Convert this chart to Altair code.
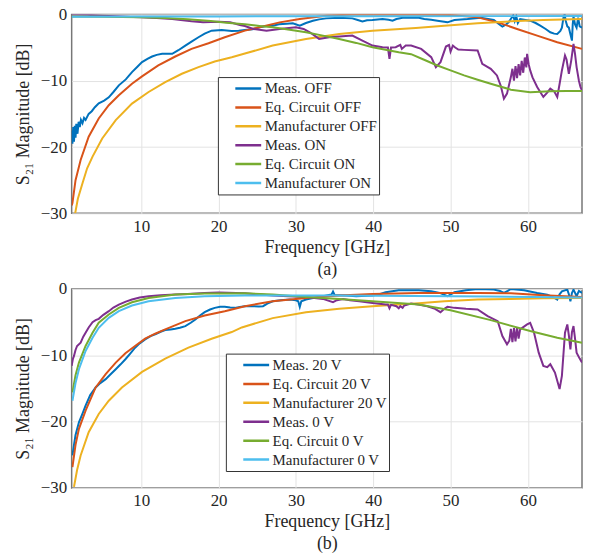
import altair as alt
import pandas as pd

COLORS = ["#0072BD", "#D95319", "#EDB120", "#7E2F8E", "#77AC30", "#4DBEEE"]
X_TICKS = [10, 20, 30, 40, 50, 60]
Y_TICKS = [-30, -20, -10, 0]

NAMES_A = ["Meas. OFF", "Eq. Circuit OFF", "Manufacturer OFF",
           "Meas. ON", "Eq. Circuit ON", "Manufacturer ON"]
NAMES_B = ["Meas. 20 V", "Eq. Circuit 20 V", "Manufacturer 20 V",
           "Meas. 0 V", "Eq. Circuit 0 V", "Manufacturer 0 V"]

# ---------------- panel (a) ----------------
A_MEAS_OFF_F = [1.0, 1.1, 1.2, 1.3, 1.4, 1.5, 1.6, 1.75, 1.9, 2.05, 2.2, 2.4, 2.6, 2.8, 3.2, 3.6, 4.0, 4.5,
                5.2, 5.8, 6.4, 7.1, 8.0, 8.8, 9.5, 10.1, 10.8, 11.4, 12.0, 12.7, 13.4, 14.0, 14.8, 15.7,
                16.5, 17.4, 18.2, 19.1, 20.4, 21.7, 22.6, 23.4, 24.4, 25.3, 26.2, 27.0, 27.8, 28.8, 29.6,
                30.5, 31.3, 32.2, 33.0, 33.9, 35.6, 37.3, 38.0, 38.6, 39.2, 39.9, 41.2, 42.0, 42.5, 43.0,
                43.8, 45.9, 46.6, 47.5, 48.3, 49.6, 50.5, 52.2, 53.9, 55.6, 56.2, 56.7, 57.2, 57.5, 57.9,
                58.1, 58.3, 58.5, 58.7, 59.0, 59.5, 60.3, 61.0, 61.6, 62.3, 62.9, 63.4, 63.8, 64.2, 64.4,
                64.6, 64.75, 64.9, 65.1, 65.3, 65.5, 65.7, 65.8, 65.9, 66.1, 66.3, 66.5, 66.7, 67.0]
A_MEAS_OFF_V = [-17.5, -19.5, -17.0, -19.2, -16.8, -18.6, -16.5, -18.0, -16.2, -17.0, -15.9, -16.4, -15.6,
                -15.9, -15.0, -14.6, -14.0, -13.4, -13.0, -12.5, -11.7, -10.7, -9.8, -8.7, -7.9, -7.2,
                -6.7, -6.35, -6.1, -5.95, -5.95, -5.95, -5.4, -4.7, -4.1, -3.45, -2.9, -2.45, -2.35, -2.5,
                -2.45, -2.35, -2.25, -1.95, -1.75, -1.7, -1.5, -1.4, -1.35, -1.7, -1.3, -0.95, -0.75, -0.6,
                -0.5, -0.6, -0.85, -1.05, -0.9, -0.85, -0.7, -0.8, -0.95, -0.7, -0.5, -0.5, -0.7, -0.8,
                -0.95, -1.2, -0.85, -0.7, -0.5, -0.85, -1.4, -1.85, -1.5, -1.2, -0.5, -0.15, -1.0, -0.3,
                -1.3, -0.7, -0.8, -0.95, -1.3, -1.7, -2.2, -2.7, -2.9, -2.95, -2.5, -2.0, -0.5, 0.0, -1.0,
                -1.8, -2.0, -3.0, -3.95, -1.5, -0.3, -1.5, -2.0, -0.5, -1.8, -2.0]

A_EQ_OFF_F = [1.0, 1.1, 1.5, 2.16, 3.2, 4.5, 5.8, 7.1, 8.8, 10.1, 12.2, 14.4, 16.5, 18.7, 20.8, 23.4, 25.3,
              27.9, 30.5, 33.9, 37.3, 42.0, 46.0, 50.0, 53.5, 56.1, 58.6, 61.2, 63.8, 67.0]
A_EQ_OFF_V = [-28.8, -28.45, -25.0, -21.95, -18.45, -15.7, -13.7, -12.2, -10.45, -9.35, -7.7, -6.35, -5.2,
              -4.35, -3.45, -2.45, -1.95, -1.2, -0.7, -0.2, -0.02, 0.0, -0.02, -0.1, -0.45, -1.2, -2.2,
              -3.2, -4.2, -5.2]

A_MAN_OFF_F = [1.45, 1.8, 2.4, 3.0, 3.7, 4.95, 6.7, 8.8, 10.95, 13.1, 15.25, 17.4, 19.5, 21.7, 23.4, 27.0,
               31.3, 35.6, 39.9, 45.5, 49.2, 53.5, 57.8, 62.0, 67.0]
A_MAN_OFF_V = [-30.0, -27.8, -25.45, -23.2, -21.45, -18.7, -15.95, -13.45, -11.7, -10.2, -8.95, -7.95, -7.1,
               -6.45, -5.9, -4.7, -3.7, -2.95, -2.45, -2.05, -1.7, -1.35, -1.05, -0.85, -0.7]

A_MEAS_ON_F = [1.0, 3.0, 5.0, 8.0, 10.0, 12.0, 14.0, 16.5, 18.0, 20.0, 21.5, 22.75, 23.4, 24.5, 26.2, 27.9,
               30.0, 31.0, 31.8, 33.0, 34.3, 35.6, 37.3, 38.6, 39.9, 41.2, 41.9, 42.1, 42.3, 42.9, 43.5,
               43.7, 44.2, 44.9, 46.2, 47.5, 48.1, 48.7, 49.4, 49.8, 50.0, 50.3, 50.6, 51.0, 51.75, 53.5,
               54.1, 55.2, 56.0, 56.5, 56.9, 57.3, 57.8, 58.0, 58.2, 58.4, 58.6, 58.8, 59.0, 59.2, 59.4,
               59.6, 59.8, 59.9, 60.1, 60.3, 60.6, 61.2, 62.0, 62.5, 62.9, 63.4, 63.8, 64.1, 64.4, 64.8,
               65.0, 65.3, 65.6, 65.9, 66.1, 66.3, 66.6, 66.8, 67.0]
A_MEAS_ON_V = [0.0, -0.05, -0.2, -0.35, -0.45, -0.55, -0.7, -1.05, -1.2, -1.1, -1.2, -1.6, -1.75, -2.2,
               -2.45, -2.2, -1.95, -2.2, -2.7, -3.7, -3.45, -3.35, -3.2, -3.95, -4.7, -4.95, -5.0, -6.7,
               -5.0, -4.95, -4.6, -5.2, -4.7, -4.7, -5.2, -6.45, -7.95, -7.2, -4.85, -4.6, -5.6, -4.7,
               -5.0, -5.3, -5.35, -5.45, -7.45, -8.2, -9.2, -10.8, -12.7, -11.95, -9.45, -8.2, -10.0, -7.8,
               -9.6, -7.5, -9.2, -7.0, -8.8, -6.5, -8.0, -5.95, -7.5, -8.45, -9.5, -10.95, -12.45, -11.8,
               -11.2, -11.6, -12.45, -10.5, -8.45, -6.2, -6.8, -8.95, -7.0, -4.45, -6.0, -7.95, -10.0,
               -10.95, -11.5]

A_EQ_ON_F = [1.0, 5.0, 10.0, 13.1, 16.0, 19.0, 21.0, 23.4, 25.3, 27.0, 29.2, 31.3, 33.5, 35.6, 37.8, 39.9,
             43.3, 44.9, 46.5, 48.3, 50.0, 51.75, 53.5, 55.2, 57.8, 60.3, 62.9, 65.0, 67.0]
A_EQ_ON_V = [-0.3, -0.35, -0.45, -0.55, -0.75, -1.0, -1.25, -1.5, -1.75, -1.95, -2.3, -2.7, -3.2, -3.7,
             -4.3, -4.95, -5.7, -6.0, -6.8, -7.7, -8.45, -9.2, -9.85, -10.45, -11.35, -11.75, -11.6,
             -11.55, -11.55]

A_MAN_ON_F = [1.0, 10.0, 20.0, 40.0, 67.0]
A_MAN_ON_V = [-0.35, -0.33, -0.3, -0.28, -0.25]

# ---------------- panel (b) ----------------
B_MEAS_20_F = [1.1, 1.3, 1.5, 1.94, 2.4, 2.8, 3.4, 4.1, 4.7, 5.4, 6.0, 6.7, 7.3, 7.95, 8.6, 9.2, 9.8, 10.5,
               11.2, 11.8, 12.5, 13.1, 13.8, 14.4, 15.0, 15.7, 16.4, 17.0, 17.6, 18.2, 18.9, 19.5, 20.2,
               20.8, 21.5, 22.1, 22.75, 23.4, 24.5, 25.2, 25.75, 26.3, 27.0, 28.0, 29.2, 30.0, 30.3, 30.5,
               30.7, 31.3, 32.2, 33.5, 34.6, 34.8, 35.0, 36.5, 37.8, 39.9, 40.8, 41.6, 43.3, 45.9, 47.5,
               48.6, 49.6, 50.5, 52.0, 53.5, 55.6, 56.4, 56.9, 57.4, 57.8, 59.5, 61.2, 62.5, 63.2, 63.8,
               64.1, 64.4, 65.1, 65.3, 65.5, 65.7, 65.9, 66.1, 66.3, 66.6, 67.0]
B_MEAS_20_V = [-25.1, -23.5, -22.0, -20.1, -18.8, -17.6, -16.0, -14.85, -14.2, -13.6, -12.9, -12.1, -11.4,
               -10.6, -9.7, -8.85, -8.2, -7.6, -7.1, -6.85, -6.45, -6.2, -6.1, -6.0, -5.85, -5.6, -5.1,
               -4.6, -4.0, -3.5, -3.1, -2.85, -2.7, -2.7, -2.8, -2.85, -2.7, -2.6, -2.6, -2.65, -2.6, -2.2,
               -1.85, -1.7, -1.6, -1.7, -1.85, -2.7, -1.85, -1.6, -1.35, -1.1, -0.85, -0.4, -0.9, -1.0,
               -1.1, -1.0, -0.8, -0.5, -0.2, -0.2, -0.35, -0.6, -1.1, -0.5, -0.2, 0.0, -0.1, -0.3, -0.6,
               -0.3, 0.0, -0.2, -0.6, -0.85, -1.2, -1.6, -0.8, -0.35, -0.1, -0.8, -1.85, -0.6, -0.1, -0.6,
               -1.1, -0.3, -0.6]

B_EQ_20_F = [1.1, 1.5, 1.94, 2.8, 4.1, 5.4, 6.7, 7.95, 9.2, 10.5, 11.8, 13.1, 15.7, 18.2, 20.8, 23.4, 27.0,
             31.3, 35.6, 39.9, 45.9, 53.5, 57.8, 62.0, 67.0]
B_EQ_20_V = [-26.85, -23.5, -21.1, -18.35, -14.85, -12.85, -11.1, -9.7, -8.6, -7.5, -6.75, -6.1, -4.85,
             -4.0, -3.35, -2.6, -1.85, -1.35, -1.0, -0.75, -0.6, -0.6, -0.65, -0.95, -1.2]

B_MAN_20_F = [1.3, 1.7, 2.16, 3.2, 4.5, 5.8, 7.5, 10.1, 13.1, 16.1, 19.1, 21.7, 23.0, 27.0, 31.3, 35.6,
              39.9, 45.9, 49.2, 53.5, 57.8, 62.0, 67.0]
B_MAN_20_V = [-29.85, -27.3, -25.1, -21.6, -18.85, -16.85, -14.85, -12.5, -10.5, -8.85, -7.5, -6.5, -5.8,
              -4.4, -3.5, -3.0, -2.6, -2.15, -1.85, -1.6, -1.5, -1.4, -1.35]

B_MEAS_0_F = [1.0, 1.15, 1.3, 1.5, 1.7, 2.16, 2.5, 2.8, 3.2, 3.7, 4.1, 4.5, 5.1, 5.8, 6.4, 7.1, 8.0, 8.8,
              9.8, 10.95, 12.5, 14.4, 16.0, 18.2, 20.0, 23.4, 27.0, 29.0, 31.3, 33.5, 34.8, 35.3, 36.1,
              37.0, 38.2, 39.9, 41.6, 41.9, 42.1, 42.3, 43.0, 43.3, 43.5, 43.8, 44.0, 44.9, 46.0, 47.0,
              48.0, 48.7, 49.2, 49.6, 50.5, 52.0, 53.5, 54.8, 56.1, 56.7, 57.3, 57.6, 57.8, 58.0, 58.2,
              58.4, 58.6, 58.8, 59.0, 59.9, 60.3, 60.8, 61.4, 62.0, 62.5, 62.9, 63.5, 64.1, 64.4, 64.8,
              65.1, 65.3, 65.5, 65.7, 65.9, 66.1, 66.3, 66.7, 67.0]
B_MEAS_0_V = [-11.6, -10.6, -10.1, -9.2, -8.6, -8.1, -7.2, -6.6, -5.8, -5.0, -4.7, -4.5, -3.9, -3.35, -2.8,
              -2.35, -1.9, -1.6, -1.3, -1.1, -0.95, -0.85, -0.75, -0.6, -0.55, -0.65, -1.0, -1.1, -1.2,
              -1.5, -2.0, -1.7, -1.5, -1.7, -1.85, -2.1, -2.35, -2.35, -2.9, -2.4, -2.6, -2.9, -2.6,
              -2.85, -2.5, -2.2, -2.4, -2.6, -3.0, -3.5, -3.0, -2.7, -2.85, -3.0, -3.1, -4.1, -4.85,
              -7.1, -8.35, -7.8, -6.0, -8.0, -5.9, -7.9, -5.8, -7.5, -6.1, -5.35, -5.1, -6.6, -9.6,
              -11.6, -11.8, -11.35, -12.6, -15.1, -13.1, -6.6, -5.35, -7.0, -9.1, -6.5, -5.6, -7.5, -9.6,
              -10.5, -11.1]

B_EQ_0_F = [1.1, 1.5, 1.94, 2.8, 3.7, 4.5, 5.8, 7.1, 8.8, 10.95, 14.4, 18.2, 23.4, 27.0, 31.3, 35.6, 39.9,
            45.9, 50.0, 55.2, 60.3, 63.8, 67.0]
B_EQ_0_V = [-15.6, -13.0, -11.1, -8.6, -6.6, -5.1, -3.85, -2.85, -2.0, -1.35, -0.85, -0.7, -0.65, -0.85,
            -1.2, -1.5, -1.85, -2.35, -3.2, -4.7, -6.35, -7.35, -8.1]

B_MAN_0_F = [1.1, 1.5, 1.94, 2.8, 3.7, 4.5, 5.8, 7.1, 8.8, 10.95, 14.4, 18.2, 23.4, 35.0, 45.0, 55.0, 67.0]
B_MAN_0_V = [-16.85, -14.2, -12.1, -9.35, -7.35, -5.85, -4.35, -3.35, -2.5, -1.85, -1.35, -1.1, -1.0,
             -1.0, -1.05, -1.15, -1.3]

SERIES_A = [(A_MEAS_OFF_F, A_MEAS_OFF_V), (A_EQ_OFF_F, A_EQ_OFF_V), (A_MAN_OFF_F, A_MAN_OFF_V),
            (A_MEAS_ON_F, A_MEAS_ON_V), (A_EQ_ON_F, A_EQ_ON_V), (A_MAN_ON_F, A_MAN_ON_V)]
SERIES_B = [(B_MEAS_20_F, B_MEAS_20_V), (B_EQ_20_F, B_EQ_20_V), (B_MAN_20_F, B_MAN_20_V),
            (B_MEAS_0_F, B_MEAS_0_V), (B_EQ_0_F, B_EQ_0_V), (B_MAN_0_F, B_MAN_0_V)]

FONT = "Liberation Serif"
TXT = "#262626"


def build_df(names, series):
    rows = []
    for name, (fs, vs) in zip(names, series):
        for i, (f, v) in enumerate(zip(fs, vs)):
            rows.append({"f": f, "db": v, "series": name, "i": i})
    return pd.DataFrame(rows)


def panel(names, series, caption, lx, ly):
    df = build_df(names, series)
    base = alt.Chart(df)
    layers = []
    for name in names:
        layers.append(
            base.transform_filter(alt.datum.series == name)
            .mark_line(strokeWidth=2, clip=True)
            .encode(
                x=alt.X("f:Q", scale=alt.Scale(domain=[1, 67], nice=False, zero=False),
                        axis=alt.Axis(values=X_TICKS, title=["Frequency [GHz]", caption],
                                      titleLineHeight=22)),
                y=alt.Y("db:Q", scale=alt.Scale(domain=[-30, 0], nice=False),
                        axis=alt.Axis(values=Y_TICKS, title="S\u2082\u2081 Magnitude [dB]")),
                color=alt.Color("series:N", scale=alt.Scale(domain=names, range=COLORS),
                                legend=alt.Legend(title=None, orient="none", legendX=lx, legendY=ly,
                                                  symbolType="stroke", symbolSize=676,
                                                  symbolStrokeWidth=2.5, labelFont=FONT,
                                                  labelFontSize=15, labelColor=TXT,
                                                  strokeColor="#333333", fillColor="white",
                                                  padding=2, rowPadding=0, clipHeight=19,
                                                  labelOffset=2, symbolOffset=14)),
                order="i:Q",
            )
        )
    return alt.layer(*layers).properties(width=513, height=200)


top = panel(NAMES_A, SERIES_A, "(a)", 147, 63)
bottom = panel(NAMES_B, SERIES_B, "(b)", 155, 65)

chart = (
    alt.vconcat(top, bottom, spacing=0)
    .resolve_scale(color="independent")
    .resolve_legend(color="independent")
    .configure(padding={"left": 5, "top": -5, "right": 0, "bottom": 0}, background="white", font=FONT)
    .configure_view(stroke="#777777", strokeWidth=1.5)
    .configure_axis(labelFont=FONT, titleFont=FONT, labelFontSize=17, titleFontSize=18,
                    titleFontWeight="normal", labelColor=TXT, titleColor=TXT,
                    gridColor="#e3e3e3", gridWidth=1, domain=False, ticks=False,
                    labelPadding=5, titlePadding=4)
    .configure_axisY(titlePadding=8)
    .configure_legend(labelFont=FONT)
)

chart.save("out.html", embed_options={"renderer": "svg", "actions": False})
